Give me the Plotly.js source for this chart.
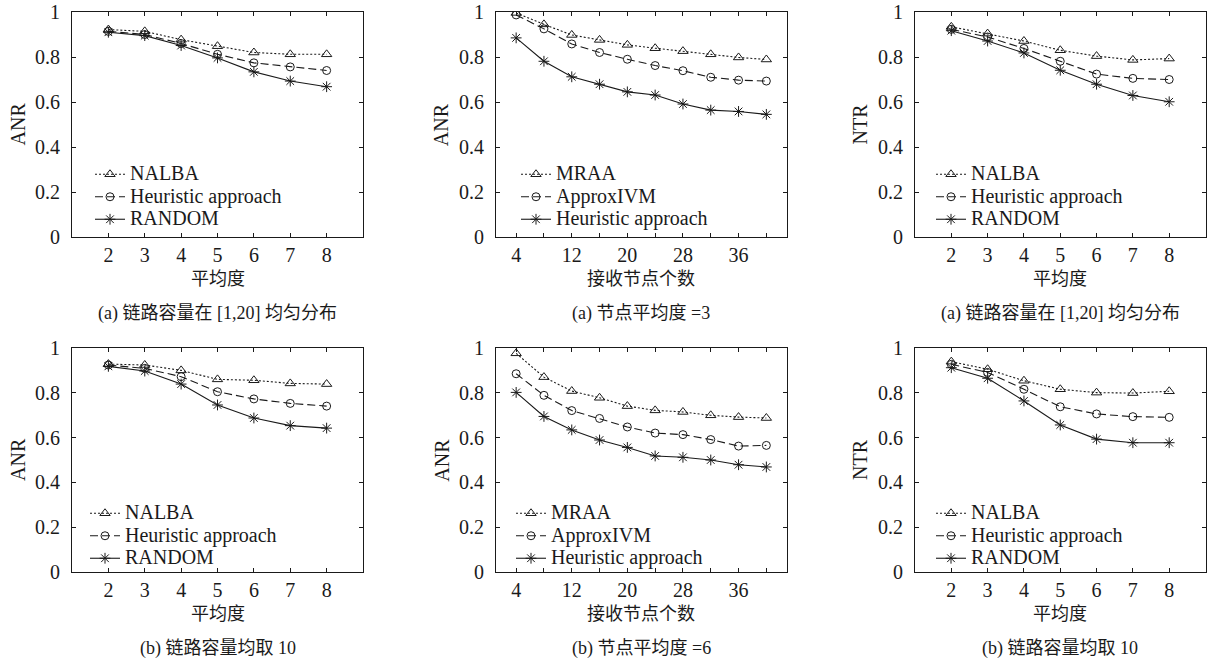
<!DOCTYPE html>
<html><head><meta charset="utf-8">
<script src="https://cdn.plot.ly/plotly-3.0.1.min.js"></script>
<style>html,body{margin:0;padding:0;background:#fff}</style>
</head><body><div id="chart" style="width:1207px;height:666px"></div>
<script>
// x categories
const degrees = [2, 3, 4, 5, 6, 7, 8];
const receivers = [4, 8, 12, 16, 20, 24, 28, 32, 36, 40];
const receiverTickVals = [4, 8, 12, 16, 20, 24, 28, 32, 36, 40];
const receiverTickText = ['4', '', '12', '', '20', '', '28', '', '36', ''];
const yTickVals = [0, 0.2, 0.4, 0.6, 0.8, 1];
const yTickText = ['0', '0.2', '0.4', '0.6', '0.8', '1'];

// (a) top-left: ANR, capacity uniform in [1,20]
const p1_nalba = [0.922, 0.914, 0.877, 0.848, 0.820, 0.812, 0.812];
const p1_heur = [0.914, 0.900, 0.860, 0.812, 0.774, 0.756, 0.740];
const p1_random = [0.910, 0.895, 0.851, 0.796, 0.734, 0.693, 0.668];
// (a) top-middle: ANR, avg degree = 3
const p2_mraa = [0.996, 0.945, 0.898, 0.876, 0.854, 0.839, 0.826, 0.812, 0.798, 0.789];
const p2_approx = [0.987, 0.925, 0.858, 0.820, 0.790, 0.762, 0.739, 0.710, 0.697, 0.693];
const p2_heur = [0.885, 0.781, 0.712, 0.679, 0.645, 0.631, 0.591, 0.564, 0.558, 0.545];
// (a) top-right: NTR, capacity uniform in [1,20]
const p3_nalba = [0.934, 0.904, 0.871, 0.830, 0.804, 0.787, 0.793];
const p3_heur = [0.923, 0.889, 0.838, 0.781, 0.724, 0.705, 0.700];
const p3_random = [0.917, 0.871, 0.818, 0.741, 0.679, 0.629, 0.601];
// (b) bottom-left: ANR, capacity = 10
const p4_nalba = [0.927, 0.923, 0.899, 0.859, 0.855, 0.841, 0.838];
const p4_heur = [0.923, 0.908, 0.871, 0.804, 0.772, 0.752, 0.740];
const p4_random = [0.917, 0.896, 0.838, 0.745, 0.687, 0.653, 0.642];
// (b) bottom-middle: ANR, avg degree = 6
const p5_mraa = [0.975, 0.869, 0.807, 0.777, 0.740, 0.721, 0.714, 0.699, 0.691, 0.687];
const p5_approx = [0.884, 0.788, 0.720, 0.685, 0.647, 0.620, 0.613, 0.591, 0.562, 0.565];
const p5_heur = [0.801, 0.694, 0.634, 0.589, 0.556, 0.518, 0.512, 0.500, 0.479, 0.469];
// (b) bottom-right: NTR, capacity = 10
const p6_nalba = [0.938, 0.904, 0.853, 0.815, 0.800, 0.798, 0.806];
const p6_heur = [0.926, 0.890, 0.815, 0.737, 0.705, 0.693, 0.690];
const p6_random = [0.911, 0.864, 0.763, 0.656, 0.593, 0.577, 0.577];

const W = 1207, H = 666;
const INK = '#1a1a1a';
const LATIN = 'Liberation Serif, DejaVu Serif, serif';
const MIXED = 'Liberation Serif, Noto Sans CJK SC, serif';

const STY = {
  dot:   {dash: '2px,2px', symbol: 'triangle-up-open', size: 9},
  dash:  {dash: '8px,4px', symbol: 'circle-open', size: 8},
  solid: {dash: 'solid', symbol: 'asterisk-open', size: 9}
};

function tr(i, x, y, name, sty) {
  const s = STY[sty];
  return {
    type: 'scatter', mode: 'lines+markers', x: x, y: y,
    name: '<span style="font-size:20px">' + name + '</span>',
    xaxis: 'x' + (i === 1 ? '' : i), yaxis: 'y' + (i === 1 ? '' : i),
    legend: 'legend' + (i === 1 ? '' : i),
    line: {color: INK, width: 1.1, dash: s.dash},
    marker: {symbol: s.symbol, size: s.size, color: INK, line: {color: INK, width: 1}},
    hoverinfo: 'x+y'
  };
}

const data = [
  tr(1, degrees, p1_nalba, 'NALBA', 'dot'),
  tr(1, degrees, p1_heur, 'Heuristic approach', 'dash'),
  tr(1, degrees, p1_random, 'RANDOM', 'solid'),
  tr(2, receivers, p2_mraa, 'MRAA', 'dot'),
  tr(2, receivers, p2_approx, 'ApproxIVM', 'dash'),
  tr(2, receivers, p2_heur, 'Heuristic approach', 'solid'),
  tr(3, degrees, p3_nalba, 'NALBA', 'dot'),
  tr(3, degrees, p3_heur, 'Heuristic approach', 'dash'),
  tr(3, degrees, p3_random, 'RANDOM', 'solid'),
  tr(4, degrees, p4_nalba, 'NALBA', 'dot'),
  tr(4, degrees, p4_heur, 'Heuristic approach', 'dash'),
  tr(4, degrees, p4_random, 'RANDOM', 'solid'),
  tr(5, receivers, p5_mraa, 'MRAA', 'dot'),
  tr(5, receivers, p5_approx, 'ApproxIVM', 'dash'),
  tr(5, receivers, p5_heur, 'Heuristic approach', 'solid'),
  tr(6, degrees, p6_nalba, 'NALBA', 'dot'),
  tr(6, degrees, p6_heur, 'Heuristic approach', 'dash'),
  tr(6, degrees, p6_random, 'RANDOM', 'solid')
];

// panel pixel boxes [left, right, top, bottom]
const boxes = [
  [72, 363, 12, 237], [496, 786.5, 12, 237], [915, 1205.5, 12, 237],
  [72, 363, 347.7, 572.3], [496, 786.5, 347.7, 572.3], [915, 1205.5, 347.7, 572.3]
];
const isRecv = [false, true, false, false, true, false];
const yTitles = ['ANR', 'ANR', 'NTR', 'ANR', 'ANR', 'NTR'];
const yTitleX = [18, 441.7, 860, 18, 441.7, 860];
const xTitles = ['平均度', '接收节点个数', '平均度', '平均度', '接收节点个数', '平均度'];
const captions = ['(a) 链路容量在 [1,20] 均匀分布', '(a) 节点平均度 =3', '(a) 链路容量在 [1,20] 均匀分布',
                  '(b) 链路容量均取 10', '(b) 节点平均度 =6', '(b) 链路容量均取 10'];
const legendTextX = [132, 558, 973, 127, 553, 973];
const legendRow1 = [172, 172, 172, 511, 511, 511];

const layout = {
  width: W, height: H, margin: {l: 0, r: 0, t: 0, b: 0},
  paper_bgcolor: '#fff', plot_bgcolor: '#fff',
  font: {family: LATIN, color: INK, size: 20},
  showlegend: true, annotations: []
};

boxes.forEach((b, k) => {
  const i = k + 1;
  const sfx = i === 1 ? '' : String(i);
  const xa = {
    domain: [b[0] / W, b[1] / W], anchor: 'y' + sfx,
    range: isRecv[k] ? [1.1, 42.9] : [1, 9],
    tickmode: 'array',
    tickvals: isRecv[k] ? receiverTickVals : degrees,
    ticktext: isRecv[k] ? receiverTickText : degrees.map(String),
    ticks: 'inside', ticklen: 4, tickwidth: 1, tickcolor: INK,
    showline: true, linecolor: INK, linewidth: 1, mirror: 'ticks',
    showgrid: false, zeroline: false,
    tickfont: {family: LATIN, size: 20, color: INK},
    ticklabelstandoff: 0
  };
  const ya = {
    domain: [1 - b[3] / H, 1 - b[2] / H], anchor: 'x' + sfx,
    range: [0, 1], tickmode: 'array', tickvals: yTickVals, ticktext: yTickText,
    ticks: 'inside', ticklen: 4, tickwidth: 1, tickcolor: INK,
    showline: true, linecolor: INK, linewidth: 1, mirror: 'ticks',
    showgrid: false, zeroline: false,
    tickfont: {family: LATIN, size: 20, color: INK},
    ticklabelstandoff: 7
  };
  layout['xaxis' + sfx] = xa;
  layout['yaxis' + sfx] = ya;
  layout['legend' + sfx] = {
    x: (legendTextX[k] - 42) / W, y: 1 - (legendRow1[k] - 14) / H,
    xanchor: 'left', yanchor: 'top',
    bgcolor: 'rgba(0,0,0,0)', borderwidth: 0,
    font: {family: LATIN, size: 15, color: INK},
    itemwidth: 30, tracegroupgap: 0
  };
  const cx = (b[0] + b[1]) / 2;
  const midY = (b[2] + b[3]) / 2;
  layout.annotations.push({
    xref: 'paper', yref: 'paper', x: yTitleX[k] / W, y: 1 - midY / H,
    text: yTitles[k], textangle: -90, showarrow: false,
    xanchor: 'center', yanchor: 'middle',
    font: {family: LATIN, size: 20, color: INK}
  });
  layout.annotations.push({
    xref: 'paper', yref: 'paper', x: cx / W, y: 1 - (b[3] + 42) / H,
    text: xTitles[k], showarrow: false, xanchor: 'center', yanchor: 'middle',
    font: {family: MIXED, size: 18, color: INK}
  });
  layout.annotations.push({
    xref: 'paper', yref: 'paper', x: cx / W, y: 1 - (b[3] + 76) / H,
    text: captions[k], showarrow: false, xanchor: 'center', yanchor: 'middle',
    font: {family: MIXED, size: 18, color: INK}
  });
});

Plotly.newPlot('chart', data, layout, {displayModeBar: false, staticPlot: true});
</script>
</body></html>
